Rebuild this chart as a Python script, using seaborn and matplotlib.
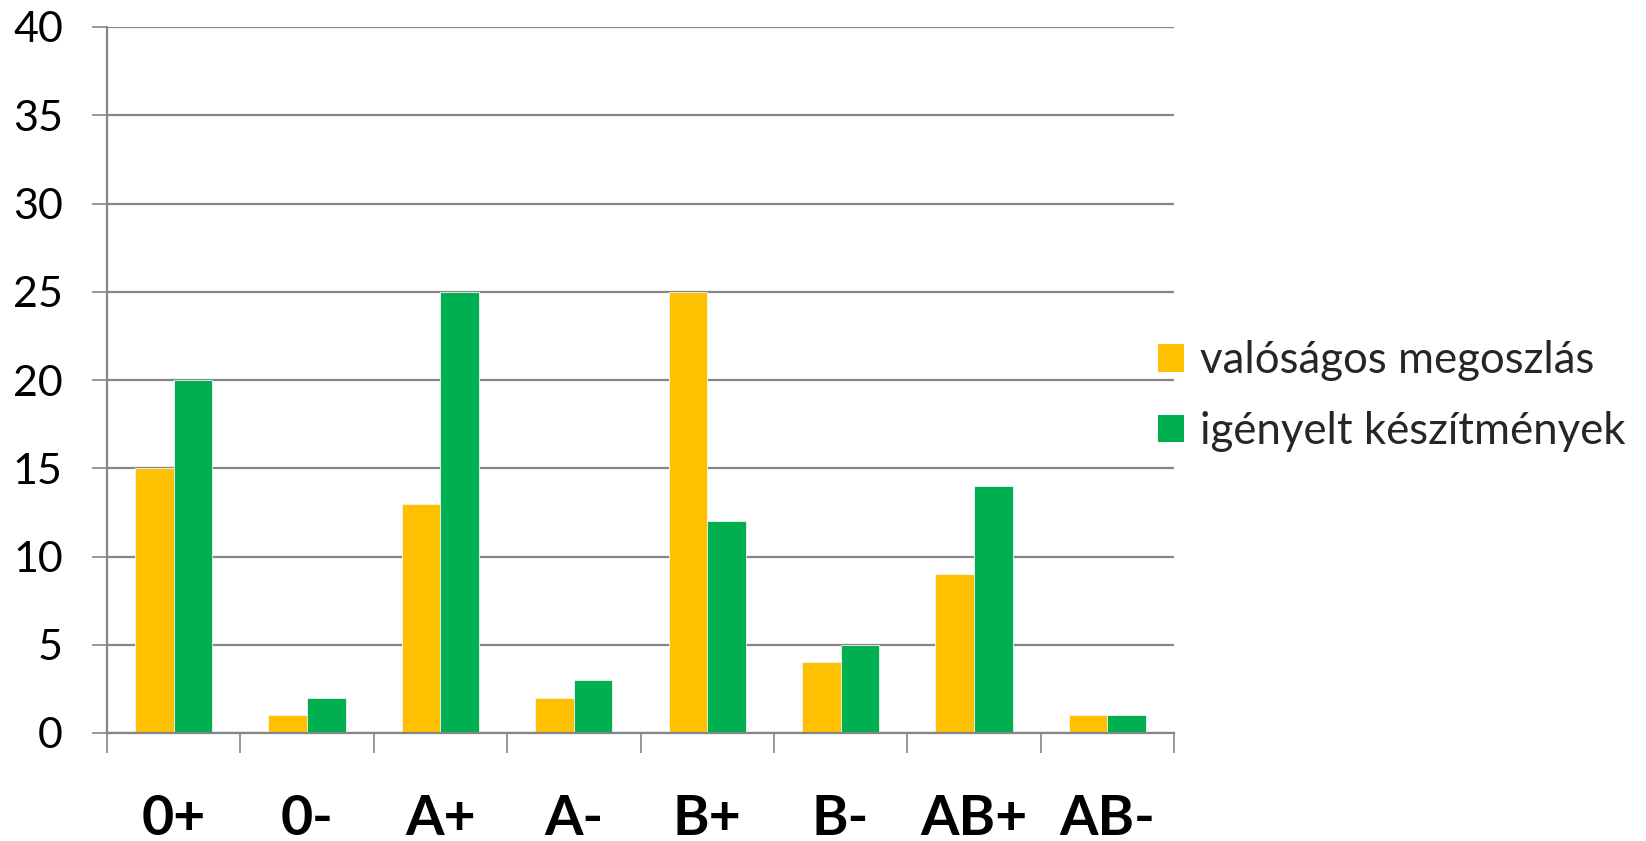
import matplotlib
matplotlib.use("Agg")
import matplotlib.pyplot as plt
import seaborn as sns
import pandas as pd
from matplotlib.ticker import MultipleLocator, FixedLocator
from matplotlib.patches import Patch

categories = ["0+", "0-", "A+", "A-", "B+", "B-", "AB+", "AB-"]
series_names = ["valóságos megoszlás", "igényelt készítmények"]
actual = [15, 1, 13, 2, 25, 4, 9, 1]
requested = [20, 2, 25, 3, 12, 5, 14, 1]
colors = ["#FFC000", "#00B050"]

df = pd.DataFrame({
    "cat": categories * 2,
    "series": [series_names[0]] * len(categories) + [series_names[1]] * len(categories),
    "value": actual + requested,
})

sns.set_theme(style="white")
plt.rcParams["font.family"] = ["Lato", "DejaVu Sans"]

fig = plt.figure(figsize=(16.46, 8.41), dpi=100)
ax = fig.add_axes([107/1646, 1 - 733/841, (1174 - 107)/1646, (733 - 27)/841])

sns.barplot(data=df, x="cat", y="value", hue="series", palette=colors,
            saturation=1, width=0.58, gap=0, ax=ax, legend=False,
            edgecolor="#f4f4f4", linewidth=0.6)

grid_c = "#868686"
ax.set_ylim(0, 40)
ax.set_xlim(-0.5, len(categories) - 0.5)
ax.yaxis.set_major_locator(MultipleLocator(5))
ax.grid(axis="y", color=grid_c, linewidth=1.6)
ax.set_axisbelow(True)
for s in ["top", "right"]:
    ax.spines[s].set_visible(False)
for s in ["left", "bottom"]:
    ax.spines[s].set_color(grid_c)
    ax.spines[s].set_linewidth(1.6)

ax.set_xlabel("")
ax.set_ylabel("")
ax.tick_params(axis="y", which="major", length=10.8, width=1.2, color=grid_c,
               pad=21, labelsize=31, labelcolor="black", left=True)
ax.tick_params(axis="x", which="major", length=0, pad=44, labelsize=40, labelcolor="black")
ax.xaxis.set_minor_locator(FixedLocator([i - 0.5 for i in range(len(categories) + 1)]))
ax.tick_params(axis="x", which="minor", length=14.4, width=1.2, color=grid_c, bottom=True)
for lab in ax.get_xticklabels():
    lab.set_fontweight("bold")

handles = [Patch(facecolor=c, edgecolor="none") for c in colors]
fig.legend(handles, series_names, loc="center left",
           bbox_to_anchor=(1158/1646, 1 - 396/841), frameon=False,
           fontsize=31.5, handlelength=0.6, handleheight=0.6,
           handletextpad=0.35, labelspacing=0.68, borderpad=0, borderaxespad=0)

fig.savefig("out.png", dpi=100, facecolor="white")
